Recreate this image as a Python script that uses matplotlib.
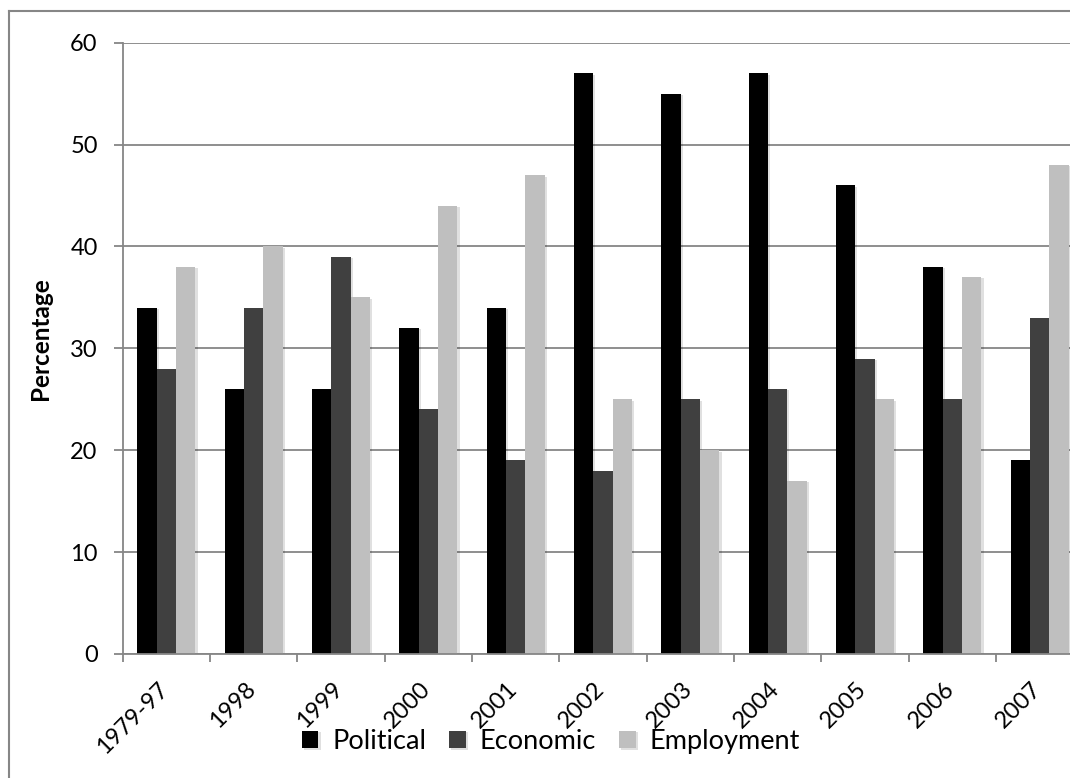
import matplotlib
matplotlib.use("Agg")
import matplotlib.pyplot as plt
from matplotlib.lines import Line2D
import matplotlib.patheffects as pe
import matplotlib.transforms as mtrans
import numpy as np

categories = ["1979-97", "1998", "1999", "2000", "2001", "2002", "2003", "2004", "2005", "2006", "2007"]
political = [34, 26, 26, 32, 34, 57, 55, 57, 46, 38, 19]
economic = [28, 34, 39, 24, 19, 18, 25, 26, 29, 25, 33]
employment = [38, 40, 35, 44, 47, 25, 20, 17, 25, 37, 48]
series_names = ["Political", "Economic", "Employment"]
series_colors = ["#000000", "#404040", "#BFBFBF"]
y_ticks = [0, 10, 20, 30, 40, 50, 60]

plt.rcParams['font.family'] = ['Lato', 'DejaVu Sans']

W, H = 1070, 778
fig = plt.figure(figsize=(W / 100, H / 100), dpi=100)
fig.patch.set_facecolor("white")

left_px, right_px = 122.7, 1083.3
top_px, bottom_px = 42.7, 654.0
ax = fig.add_axes([left_px / W, 1 - bottom_px / H, (right_px - left_px) / W, (bottom_px - top_px) / H])

gray = "#868686"
x = np.arange(len(categories))
w = 1 / 4.5
shadow = [pe.SimplePatchShadow(offset=(1.5, -1.0), shadow_rgbFace="#000000", alpha=0.12), pe.Normal()]
for i, (vals, name, col) in enumerate(zip([political, economic, employment], series_names, series_colors)):
    bars = ax.bar(x + (i - 1) * w, vals, width=w, color=col, label=name, zorder=3, linewidth=0)
    for b in bars:
        b.set_path_effects(shadow)

ax.set_xlim(-0.5, len(categories) - 0.5)
ax.set_ylim(0, 60)
ax.set_yticks(y_ticks)
ax.set_yticklabels([str(v) for v in y_ticks], fontsize=17, color="#000000")
ax.yaxis.grid(True, color=gray, linewidth=1.3, zorder=0)
ax.set_axisbelow(True)

for s in ["top", "right"]:
    ax.spines[s].set_visible(False)
for s in ["left", "bottom"]:
    ax.spines[s].set_color(gray)
    ax.spines[s].set_linewidth(1.3)
    ax.spines[s].set_zorder(4)

ax.tick_params(axis="y", direction="out", length=6.5, width=1.3, color=gray, pad=11.5)
ax.set_xticks(x)
ax.set_xticks(np.arange(-0.5, len(categories) + 0.5, 1), minor=True)
ax.tick_params(axis="x", which="major", length=0, pad=26)
ax.tick_params(axis="x", which="minor", direction="out", length=5.8, width=1.3, color=gray)
ax.set_xticklabels(categories, rotation=45, ha="right", va="baseline", rotation_mode="anchor", fontsize=17)
offset = mtrans.ScaledTranslation(3 / 100, 0, fig.dpi_scale_trans)
for lbl in ax.get_xticklabels():
    lbl.set_transform(lbl.get_transform() + offset)

ax.set_ylabel("Percentage", fontsize=17.5, fontweight="bold")
ax.yaxis.set_label_coords((52 - left_px) / (right_px - left_px), (bottom_px - 339) / (bottom_px - top_px))

leg = fig.legend(loc="center", bbox_to_anchor=(550.6 / W, 1 - 741.7 / H), ncol=3, frameon=False,
                 fontsize=19.5, handlelength=0.62, handleheight=0.62, handletextpad=0.5,
                 columnspacing=0.85, borderaxespad=0)

# outer chart border (left and top visible in the crop)
fig.add_artist(Line2D([9 / W, 9 / W], [1 - 11 / H, 1 - 777 / H], color=gray, linewidth=1.5, transform=fig.transFigure))
fig.add_artist(Line2D([9 / W, 1.0], [1 - 11 / H, 1 - 11 / H], color=gray, linewidth=1.5, transform=fig.transFigure))

fig.savefig("out.png", dpi=100)
